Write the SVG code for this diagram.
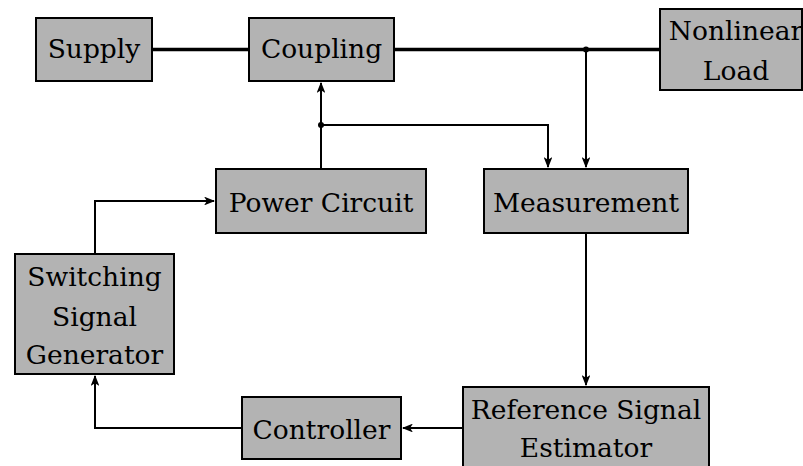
<svg xmlns="http://www.w3.org/2000/svg" width="803" height="466" viewBox="0 0 803 466">
<style>
.box{fill:#b3b3b3;stroke:#000;stroke-width:2}
.t{font-family:'DejaVu Serif',serif;font-size:26.5px;fill:#000;text-anchor:middle}
.w{fill:none;stroke:#000;stroke-width:2}
.thick{fill:none;stroke:#000;stroke-width:3.6}
</style>
<defs>
<marker id="ah" viewBox="0 0 10 8" refX="9" refY="4" markerWidth="11" markerHeight="8.8" markerUnits="userSpaceOnUse" orient="auto">
<path d="M0,0 L10,4 L0,8 L2.5,4 Z" fill="#000"/>
</marker>
</defs>
<rect width="803" height="466" fill="#fff"/>
<g id="connectors">
<path class="thick" d="M152,49.5 H249"/>
<path class="thick" d="M394,49.5 H660"/>
<path class="w" d="M586,49.5 V167" marker-end="url(#ah)"/>
<path class="w" d="M321,169 V83" marker-end="url(#ah)"/>
<path class="w" d="M321,125 H548 V167" marker-end="url(#ah)"/>
<path class="w" d="M586,233 V385" marker-end="url(#ah)"/>
<path class="w" d="M463,428 H403" marker-end="url(#ah)"/>
<path class="w" d="M242,428 H95 V376" marker-end="url(#ah)"/>
<path class="w" d="M95,254 V201 H214" marker-end="url(#ah)"/>
<circle cx="586" cy="49.5" r="3" fill="#000"/>
<circle cx="321" cy="125" r="3" fill="#000"/>
</g>
<g id="supply"><rect class="box" x="36" y="18" width="116" height="63"/><text class="t" x="94" y="58">Supply</text></g>
<g id="coupling"><rect class="box" x="249" y="18" width="145" height="63"/><text class="t" x="321.5" y="58">Coupling</text></g>
<g id="load"><rect class="box" x="660" y="9" width="142" height="81"/><text class="t" x="736" y="40">Nonlinear</text><text class="t" x="736" y="80">Load</text></g>
<g id="power"><rect class="box" x="216" y="169" width="210" height="64"/><text class="t" x="321" y="212">Power Circuit</text></g>
<g id="measurement"><rect class="box" x="484" y="169" width="204" height="64"/><text class="t" x="586" y="212">Measurement</text></g>
<g id="ssg"><rect class="box" x="15" y="254" width="159" height="120"/><text class="t" x="94.5" y="286">Switching</text><text class="t" x="94.5" y="326">Signal</text><text class="t" x="94.5" y="364">Generator</text></g>
<g id="controller"><rect class="box" x="242" y="397" width="159" height="62"/><text class="t" x="321.5" y="439">Controller</text></g>
<g id="rse"><rect class="box" x="463" y="387" width="246" height="84"/><text class="t" x="586" y="419">Reference Signal</text><text class="t" x="586" y="457">Estimator</text></g>
</svg>
